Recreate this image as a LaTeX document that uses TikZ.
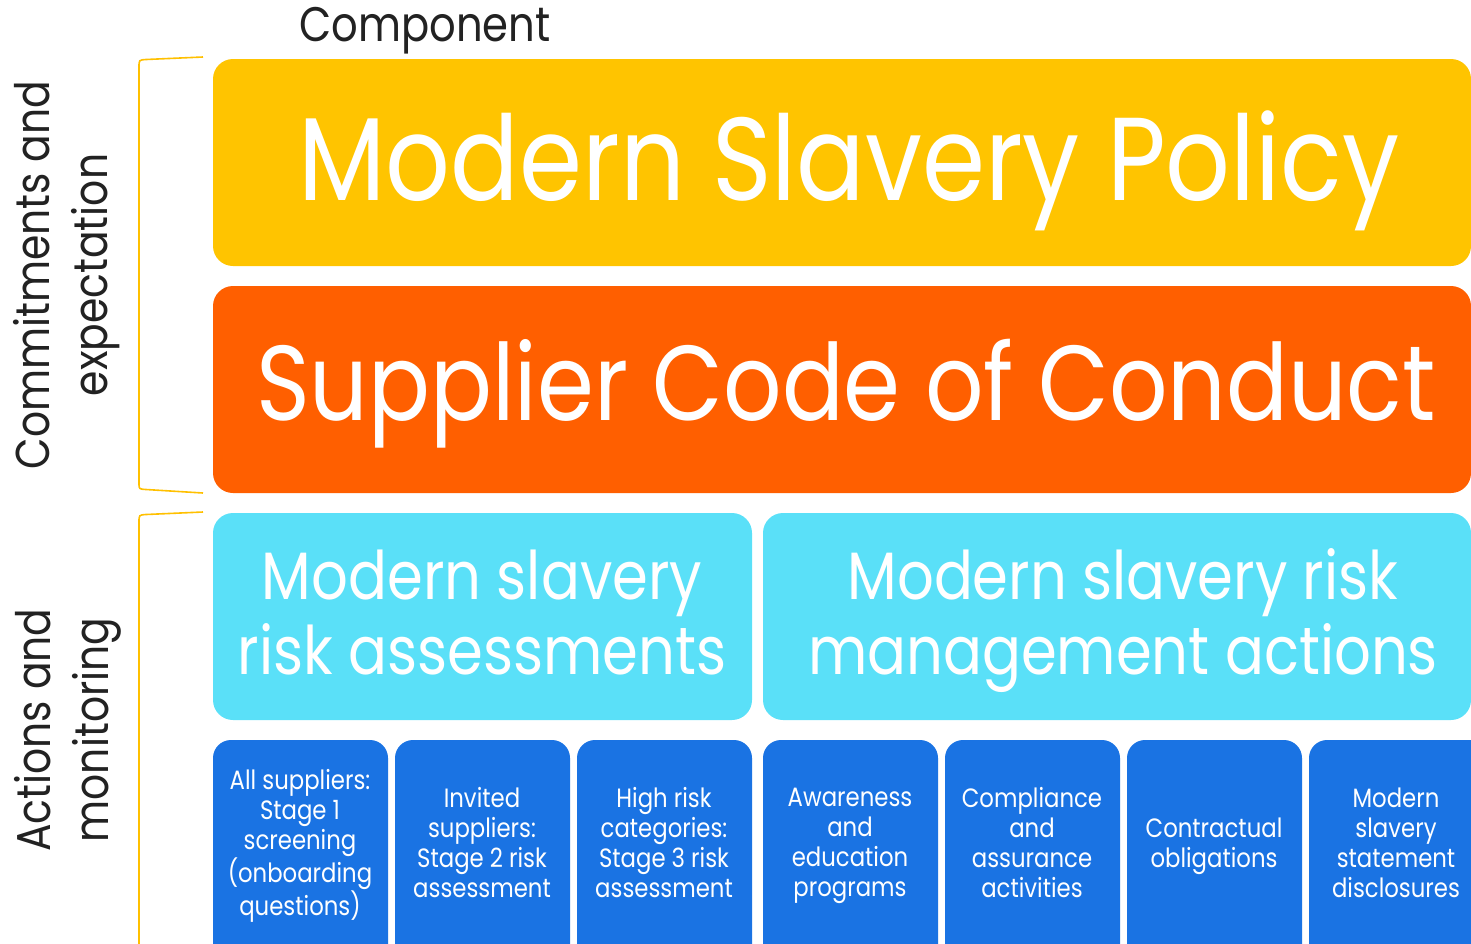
\documentclass[tikz,border=0pt]{standalone}
\usepackage{fontspec}
\setmainfont{Poppins}[FakeStretch=0.86]
\definecolor{cyel}{HTML}{FFC400}
\definecolor{cora}{HTML}{FF5F00}
\definecolor{ccya}{HTML}{5AE0F8}
\definecolor{cblu}{HTML}{1A73E3}
\definecolor{cbrk}{HTML}{FFC000}
\definecolor{ctxt}{HTML}{222222}
\newcommand{\mydepth}{\vphantom{gy}}
\begin{document}
\begin{tikzpicture}[x=1pt,y=-1pt,
  bigbox/.style={fill=#1,rounded corners=20pt,draw=none},
  smallbox/.style={fill=cblu,rounded corners=18pt,draw=none},
  bigtxt/.style={text=white,inner sep=0pt,anchor=base},
  midtxt/.style={text=white,font=\fontsize{67}{75}\selectfont,align=center,inner sep=0pt},
  smtxt/.style={text=white,font=\fontsize{26.5}{30}\selectfont,align=center,inner sep=0pt},
  sidetxt/.style={text=ctxt,font=\fontsize{47.5}{58}\selectfont,align=center,inner sep=0pt,rotate=90},
  brk/.style={draw=cbrk,line width=1.6pt}]
\useasboundingbox (0,0) rectangle (1471,943);
\clip (0,0) rectangle (1471,943);
% boxes
\path[bigbox=cyel] (213,59) rectangle (1471,266);
\path[bigbox=cora] (213,286) rectangle (1471,493);
\path[bigbox=ccya] (213,513) rectangle (752,720);
\path[bigbox=ccya] (763,513) rectangle (1471,720);
\foreach \a/\b in {213/388,395/570,577/752,763/938,945/1120,1127/1302,1309/1490}{
  \path[smallbox] (\a,740) rectangle (\b,965);
}
% texts
\node[text=ctxt,font=\fontsize{48.5}{50}\selectfont,inner sep=0pt,anchor=base] (comp) at (425,41) {Component};
\node[bigtxt,font=\fontsize{118}{120}\selectfont] (policy) at (849,200) {Modern Slavery Policy};
\node[bigtxt,font=\fontsize{106.5}{110}\selectfont] (code) at (846,420) {Supplier Code of Conduct};
\node[midtxt] (ra) at (482,621) {Modern slavery\\risk assessments\mydepth};
\node[midtxt] (rm) at (1123,621) {Modern slavery risk\\management actions\mydepth};
\node[smtxt] (s1) at (300,846) {All suppliers:\\Stage 1\\screening\\(onboarding\\questions)\mydepth};
\node[smtxt] (s2) at (482,846) {Invited\\suppliers:\\Stage 2 risk\\assessment\mydepth};
\node[smtxt] (s3) at (664,846) {High risk\\categories:\\Stage 3 risk\\assessment\mydepth};
\node[smtxt] (s4) at (850,846) {Awareness\\and\\education\\programs\mydepth};
\node[smtxt] (s5) at (1032,846) {Compliance\\and\\assurance\\activities\mydepth};
\node[smtxt] (s6) at (1214,846) {Contractual\\obligations\mydepth};
\node[smtxt] (s7) at (1396,846) {Modern\\slavery\\statement\\disclosures\mydepth};
\node[sidetxt] (ce) at (67,275) {Commitments and\\expectation};
\node[sidetxt] (am) at (68,730) {Actions and\\monitoring};
% brackets
\draw[brk] (203,57) -- (146,59.5) .. controls (139,60) .. (139,67) -- (139,484) .. controls (139,489) .. (146,489.5) -- (203,493);
\draw[brk] (203,512) -- (146,514.5) .. controls (139,515) .. (139,522) -- (139,950);
\end{tikzpicture}
\end{document}
